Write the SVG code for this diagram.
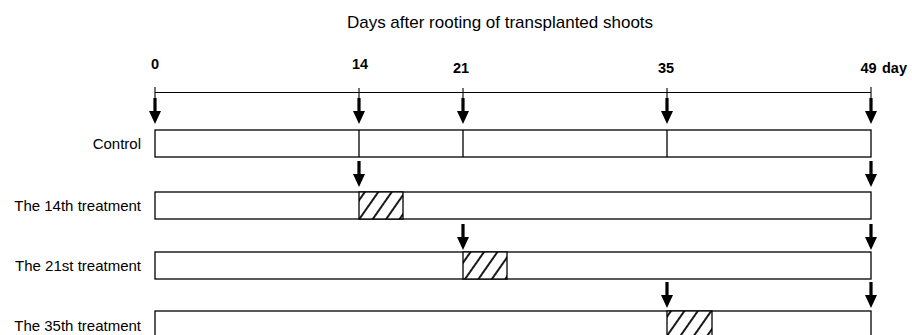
<svg xmlns="http://www.w3.org/2000/svg" width="912" height="335" viewBox="0 0 912 335">
<style>
.t{font-family:"Liberation Sans",Arial,sans-serif;fill:#000}
.title{font-size:17px}
.lab{font-size:15px;text-anchor:end}
.num{font-size:14.5px;font-weight:bold;text-anchor:middle}
.bar{fill:#fff;stroke:#000;stroke-width:1.3}
.div{stroke:#000;stroke-width:1.3}
.hatch{fill:url(#hp);stroke:#000;stroke-width:1.3}
.ax{stroke:#000;stroke-width:1.1;fill:none}
</style>
<defs>
<pattern id="hp" patternUnits="userSpaceOnUse" width="11" height="11" patternTransform="rotate(35)">
<rect width="11" height="11" fill="#fff"/>
<line x1="2" y1="-1" x2="2" y2="12" stroke="#000" stroke-width="1.8"/>
</pattern>
<path id="arr" d="M-1.6,0 H1.6 V13 H6 L0,26 L-6,13 H-1.6 Z" fill="#000"/>
</defs>
<rect width="912" height="335" fill="#fff"/>
<g id="title"><text class="t title" x="500" y="28" text-anchor="middle">Days after rooting of transplanted shoots</text></g>
<g id="axis">
<line class="ax" x1="155" y1="92.5" x2="871" y2="92.5"/>
<line class="ax" x1="155" y1="87" x2="155" y2="98"/>
<line class="ax" x1="359" y1="88" x2="359" y2="98"/>
<line class="ax" x1="463" y1="88" x2="463" y2="98"/>
<line class="ax" x1="667" y1="88" x2="667" y2="98"/>
<line class="ax" x1="871" y1="87" x2="871" y2="98"/>
<text class="t num" x="155" y="68.5">0</text>
<text class="t num" x="360" y="68.5">14</text>
<text class="t num" x="461" y="72.5">21</text>
<text class="t num" x="666" y="73">35</text>
<text class="t num" x="868.5" y="73">49</text>
<text class="t" x="882" y="73" font-size="14.5" font-weight="bold">day</text>
</g>
<g id="control">
<text class="t lab" x="141" y="148.5">Control</text>
<rect class="bar" x="155" y="130" width="716" height="27"/>
<line class="div" x1="359" y1="130" x2="359" y2="157"/>
<line class="div" x1="463" y1="130" x2="463" y2="157"/>
<line class="div" x1="667" y1="130" x2="667" y2="157"/>
</g>
<g id="t14">
<text class="t lab" x="141" y="211">The 14th treatment</text>
<rect class="bar" x="155" y="192" width="716" height="27"/>
<rect class="hatch" x="359" y="192" width="44" height="27"/>
</g>
<g id="t21">
<text class="t lab" x="141" y="271">The 21st treatment</text>
<rect class="bar" x="155" y="252" width="716" height="27"/>
<rect class="hatch" x="463" y="252" width="44" height="27"/>
</g>
<g id="t35">
<text class="t lab" x="141" y="330.5">The 35th treatment</text>
<rect class="bar" x="155" y="311" width="716" height="27"/>
<rect class="hatch" x="667" y="311" width="45" height="27"/>
</g>
<g id="connectors">
<use href="#arr" x="155" y="98"/>
<use href="#arr" x="359" y="98"/>
<use href="#arr" x="463" y="98"/>
<use href="#arr" x="667" y="98"/>
<use href="#arr" x="871" y="98"/>
<use href="#arr" x="359" y="161"/>
<use href="#arr" x="871" y="161"/>
<use href="#arr" x="463" y="224"/>
<use href="#arr" x="871" y="224"/>
<use href="#arr" x="667" y="282"/>
<use href="#arr" x="871" y="282"/>
</g>
</svg>
